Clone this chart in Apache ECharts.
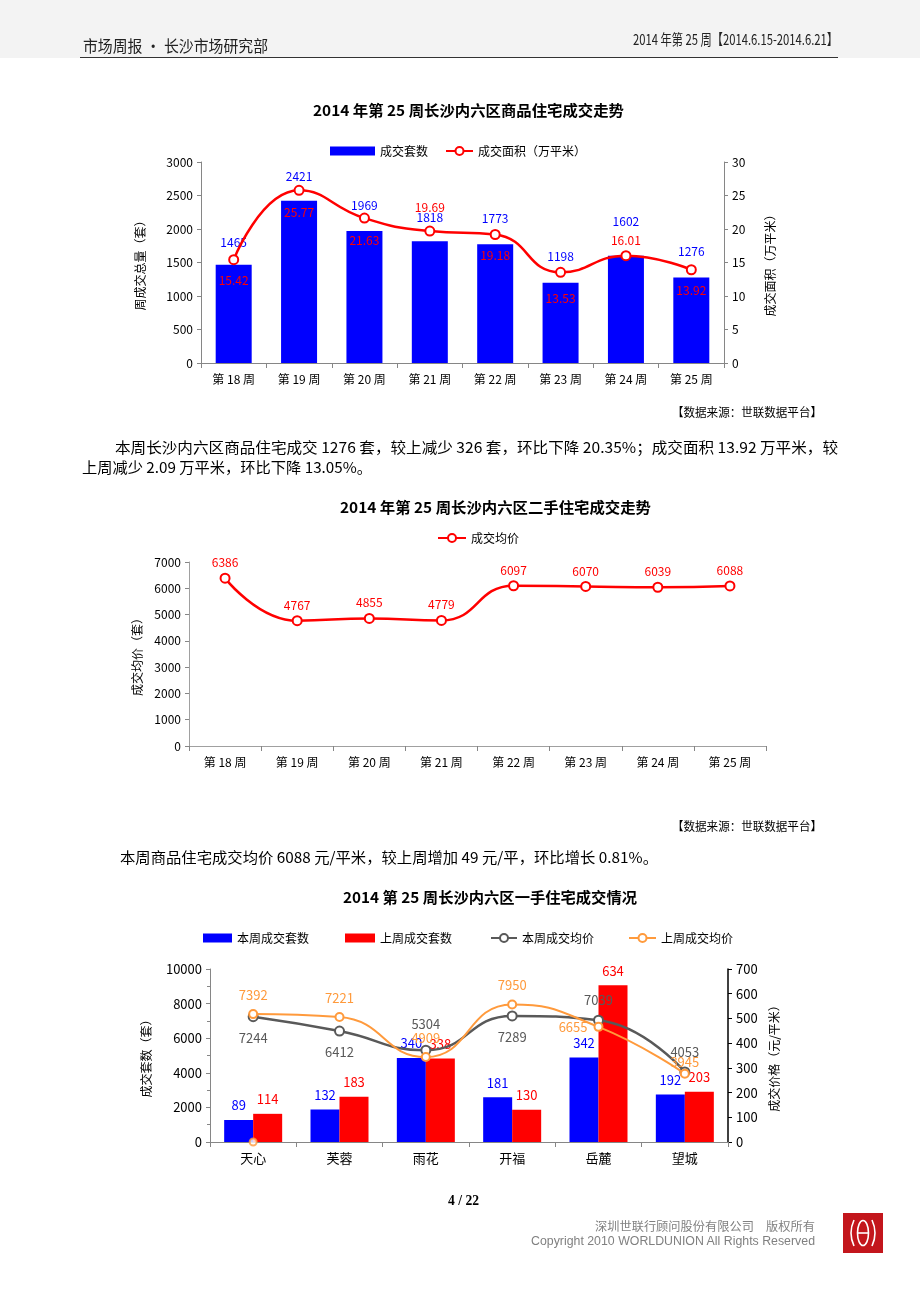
<!DOCTYPE html>
<html><head><meta charset="utf-8">
<script src="https://cdn.jsdelivr.net/npm/echarts@6/dist/echarts.min.js"></script>
<style>
html,body{margin:0;padding:0;background:#fff;}
#page{position:relative;width:920px;height:1302px;overflow:hidden;font-family:"Noto Sans CJK SC","Noto Sans",sans-serif;color:#000;}
#band{position:absolute;left:0;top:0;width:920px;height:58px;background:#f3f3f3;}
#chart{position:absolute;left:0;top:0;width:920px;height:1302px;}
.t{position:absolute;white-space:nowrap;line-height:1;transform-origin:0 50%;}
</style></head><body>
<div id="page">
<div id="band"></div>
<div id="chart"></div>
<div class="t" data-w="185" style="left:83px;top:37px;font-size:16px;color:#222;">市场周报 · 长沙市场研究部</div>
<div class="t" data-w="205" style="left:633px;top:31px;font-size:15px;color:#222;">2014 年第 25 周【2014.6.15-2014.6.21】</div>
<div style="position:absolute;left:80px;top:57px;width:758px;height:1px;background:#333;"></div>

<div class="t" data-w="311" style="left:313px;top:102px;font-size:15px;font-weight:bold;">2014 年第 25 周长沙内六区商品住宅成交走势</div>
<div class="t" data-w="150" style="left:672px;top:406px;font-size:12px;">【数据来源：世联数据平台】</div>
<div class="t" data-w="723" style="left:115px;top:439px;font-size:15px;">本周长沙内六区商品住宅成交 1276 套，较上减少 326 套，环比下降 20.35%；成交面积 13.92 万平米，较</div>
<div class="t" data-w="290" style="left:82px;top:459px;font-size:15px;">上周减少 2.09 万平米，环比下降 13.05%。</div>

<div class="t" data-w="311" style="left:340px;top:499px;font-size:15px;font-weight:bold;">2014 年第 25 周长沙内六区二手住宅成交走势</div>
<div class="t" data-w="150" style="left:672px;top:820px;font-size:12px;">【数据来源：世联数据平台】</div>
<div class="t" data-w="538" style="left:120px;top:849px;font-size:15px;">本周商品住宅成交均价 6088 元/平米，较上周增加 49 元/平，环比增长 0.81%。</div>

<div class="t" data-w="294" style="left:343px;top:889px;font-size:15px;font-weight:bold;">2014 第 25 周长沙内六区一手住宅成交情况</div>

<div class="t" data-w="31" style="left:448px;top:1194px;font-size:14px;font-weight:bold;font-family:'Liberation Serif',serif;">4 / 22</div>
<div class="t" data-w="220" style="left:595px;top:1220px;font-size:12px;color:#808080;">深圳世联行顾问股份有限公司　版权所有</div>
<div class="t" data-w="284" style="left:531px;top:1235px;font-size:12px;color:#808080;font-family:'Liberation Sans',Arial,sans-serif;">Copyright 2010 WORLDUNION All Rights Reserved</div>
<svg style="position:absolute;left:843px;top:1213px;" width="40" height="40">
<rect width="40" height="40" fill="#c3161c"/>
<g fill="none" stroke="#fff" stroke-width="1.6">
<path d="M11 7 Q5 20 11 33"/>
<ellipse cx="20" cy="20" rx="5.5" ry="12.5"/>
<line x1="14.5" y1="20" x2="25.5" y2="20"/>
<path d="M29 7 Q35 20 29 33"/>
</g></svg>
</div>
<script>
// ---------- data ----------
const weeks = ['第 18 周','第 19 周','第 20 周','第 21 周','第 22 周','第 23 周','第 24 周','第 25 周'];
const newUnits = [1465, 2421, 1969, 1818, 1773, 1198, 1602, 1276];
const newArea = [15.42, 25.77, 21.63, 19.69, 19.18, 13.53, 16.01, 13.92];
const resalePrice = [6386, 4767, 4855, 4779, 6097, 6070, 6039, 6088];
const districts = ['天心','芙蓉','雨花','开福','岳麓','望城'];
const thisWeekUnits = [89, 132, 340, 181, 342, 192];
const lastWeekUnits = [114, 183, 338, 130, 634, 203];
const thisWeekPrice = [7244, 6412, 5304, 7289, 7039, 4053];
const lastWeekPrice = [7392, 7221, 4909, 7950, 6655, 3945];
const lastWeekStrayMarker = [0, null, null, null, null, null];

// ---------- label placement (style) ----------
const unitsLabelDist = [16, 18, 20, 18, 20, 20, 28, 20];
const areaLabelPos = ['bottom','bottom','bottom','top','bottom','bottom','top','bottom'];
const areaLabelDist = [9, 11, 11, 12, 9, 15, 4, 9];
const thisPriceLabelPos = ['bottom','bottom','top','bottom','top','top'];
const thisPriceLabelDist = [9, 9, 14, 9, 8, 8];
const lastPriceLabelPos = ['top','top','top','top','left','top'];
const lastPriceLabelDist = [8, 8, 8, 8, 6, 0];

const FONT = '"Noto Sans CJK SC","Noto Sans",sans-serif';
const AX = '#868686';
const plain = v => String(v);

function valAxis(o){
  return Object.assign({
    type:'value',
    axisLine:{show:true,lineStyle:{color:AX,width:1}},
    axisTick:{show:true,length:4,lineStyle:{color:AX}},
    splitLine:{show:false},
    axisLabel:{color:'#000',fontSize:12,margin:8,fontFamily:FONT,formatter:plain},
    nameLocation:'middle',nameRotate:90,
    nameTextStyle:{color:'#000',fontSize:12,fontFamily:FONT}
  }, o);
}
function catAxis(o){
  return Object.assign({
    type:'category',
    axisLine:{lineStyle:{color:AX}},
    axisTick:{show:true,length:5,lineStyle:{color:AX}},
    axisLabel:{color:'#000',fontSize:12,margin:10,fontFamily:FONT}
  }, o);
}
const legendText = {color:'#000',fontSize:12,fontFamily:FONT};

const chart = echarts.init(document.getElementById('chart'), null, {renderer:'canvas'});
chart.setOption({
  backgroundColor:'transparent',
  animation:false,
  textStyle:{fontFamily:FONT},
  grid:[
    {left:201, top:162, width:523, height:201},
    {left:189, top:562, width:577, height:184},
    {left:210, top:969, width:518, height:173}
  ],
  legend:[
    {left:325, top:140, data:['成交套数'], icon:'rect', itemWidth:45, itemHeight:9, textStyle:legendText},
    {left:440, top:140, data:['成交面积（万平米）'], itemWidth:27, itemHeight:10, textStyle:legendText},
    {left:432, top:527, data:['成交均价'], itemWidth:28, itemHeight:10, textStyle:legendText},
    {left:198, top:927, data:['本周成交套数'], icon:'rect', itemWidth:29, itemHeight:9, textStyle:legendText},
    {left:340, top:927, data:['上周成交套数'], icon:'rect', itemWidth:30, itemHeight:9, textStyle:legendText},
    {left:485, top:927, data:['本周成交均价'], itemWidth:26, itemHeight:10, textStyle:legendText},
    {left:623, top:927, data:['上周成交均价'], itemWidth:27, itemHeight:10, textStyle:legendText}
  ],
  xAxis:[
    catAxis({gridIndex:0, data:weeks}),
    catAxis({gridIndex:1, data:weeks, axisLine:{lineStyle:{color:'#a0a0a0'}}}),
    catAxis({gridIndex:2, data:districts, axisLabel:{color:'#000',fontSize:13,margin:10,fontFamily:FONT}})
  ],
  yAxis:[
    valAxis({gridIndex:0, min:0, max:3000, interval:500, name:'周成交总量（套）', nameGap:55}),
    valAxis({gridIndex:0, position:'right', min:0, max:30, interval:5, name:'成交面积（万平米）', nameGap:40}),
    valAxis({gridIndex:1, min:0, max:7000, interval:1000, name:'成交均价（套）', nameGap:43,
      axisLine:{show:true,lineStyle:{color:'#a0a0a0'}}}),
    valAxis({gridIndex:2, min:0, max:10000, interval:2000, name:'成交套数（套）', nameGap:58,
      minorTick:{show:true,splitNumber:2,length:3,lineStyle:{color:AX}},
      axisLabel:{color:'#000',fontSize:13,margin:8,fontFamily:FONT,formatter:plain}}),
    valAxis({gridIndex:2, position:'right', min:0, max:700, interval:100, name:'成交价格（元/平米）', nameGap:38,
      axisLine:{show:true,lineStyle:{color:'#000',width:1.5}},
      axisTick:{show:true,length:4,lineStyle:{color:'#000'}},
      axisLabel:{color:'#000',fontSize:13,margin:8,fontFamily:FONT,formatter:plain}})
  ],
  series:[
    {name:'成交套数', type:'bar', xAxisIndex:0, yAxisIndex:0, barWidth:36,
     data:newUnits.map((v,i)=>({value:v, label:{distance:unitsLabelDist[i]}})),
     itemStyle:{color:'#0000FF'},
     label:{show:true, position:'top', color:'#0000FF', fontSize:12}},
    {name:'成交面积（万平米）', type:'line', xAxisIndex:0, yAxisIndex:1, z:5,
     data:newArea.map((v,i)=>({value:v, label:{position:areaLabelPos[i], distance:areaLabelDist[i]}})),
     smooth:true, symbol:'emptyCircle', symbolSize:9,
     lineStyle:{color:'#FF0000', width:2.5}, itemStyle:{color:'#FF0000', borderWidth:2},
     label:{show:true, color:'#FF0000', fontSize:12}},
    {name:'成交均价', type:'line', xAxisIndex:1, yAxisIndex:2, data:resalePrice,
     smooth:true, symbol:'emptyCircle', symbolSize:9,
     lineStyle:{color:'#FF0000', width:2.5}, itemStyle:{color:'#FF0000', borderWidth:2},
     label:{show:true, position:'top', distance:4, color:'#FF0000', fontSize:12}},
    {name:'本周成交套数', type:'bar', xAxisIndex:2, yAxisIndex:4, data:thisWeekUnits,
     barWidth:29, barGap:'0%', itemStyle:{color:'#0000FF'},
     label:{show:true, position:'top', distance:8, color:'#0000FF', fontSize:13}},
    {name:'上周成交套数', type:'bar', xAxisIndex:2, yAxisIndex:4, data:lastWeekUnits,
     barWidth:29, barGap:'0%', itemStyle:{color:'#FF0000'},
     label:{show:true, position:'top', distance:8, color:'#FF0000', fontSize:13}},
    {name:'本周成交均价', type:'line', xAxisIndex:2, yAxisIndex:3, z:5,
     data:thisWeekPrice.map((v,i)=>({value:v, label:{position:thisPriceLabelPos[i], distance:thisPriceLabelDist[i]}})),
     smooth:true, symbol:'emptyCircle', symbolSize:9,
     lineStyle:{color:'#595959', width:2.5}, itemStyle:{color:'#595959', borderWidth:2},
     label:{show:true, color:'#595959', fontSize:13}},
    {name:'上周成交均价', type:'line', xAxisIndex:2, yAxisIndex:3, z:6,
     data:lastWeekPrice.map((v,i)=>({value:v, label:{position:lastPriceLabelPos[i], distance:lastPriceLabelDist[i]}})),
     smooth:true, symbol:'emptyCircle', symbolSize:8,
     lineStyle:{color:'#FF9A3C', width:2}, itemStyle:{color:'#FF9A3C', borderWidth:2},
     label:{show:true, color:'#FF9A3C', fontSize:13}},
    {name:'上周成交均价', type:'scatter', xAxisIndex:2, yAxisIndex:3, z:6,
     data:lastWeekStrayMarker, symbol:'emptyCircle', symbolSize:7,
     itemStyle:{color:'#FF9A3C', borderWidth:2}}
  ]
});

function fit(){
  document.querySelectorAll('.t[data-w]').forEach(el=>{
    el.style.transform='none';
    const w = el.getBoundingClientRect().width;
    const target = +el.getAttribute('data-w');
    if (w>0) el.style.transform = 'scaleX(' + (target/w) + ')';
  });
}
fit();
if (document.fonts && document.fonts.ready) document.fonts.ready.then(fit);
</script>
</body></html>
